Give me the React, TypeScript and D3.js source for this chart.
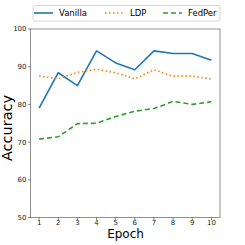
import { useEffect, useRef } from "react";
import * as d3 from "d3";

const epochs = [1, 2, 3, 4, 5, 6, 7, 8, 9, 10];
const vanilla = [79, 88.4, 85, 94.2, 91, 89.2, 94.2, 93.5, 93.5, 91.7];
const ldp = [87.5, 86.8, 88.5, 89.3, 88.4, 86.8, 89.2, 87.5, 87.5, 86.7];
const fedper = [70.8, 71.4, 74.9, 75, 76.8, 78.2, 78.9, 80.8, 80, 80.7];
const yTicks = [50, 60, 70, 80, 90, 100];

const seriesList = [
  { name: "Vanilla", values: vanilla, color: "#1f77b4", dash: "" },
  { name: "LDP", values: ldp, color: "#ff7f0e", dash: "1.5,2.5" },
  { name: "FedPer", values: fedper, color: "#2ca02c", dash: "5,3" },
];

export default function App() {
  const svgRef = useRef<SVGSVGElement | null>(null);
  const width = 245;
  const height = 245;

  useEffect(() => {
    if (!svgRef.current) return;
    const svg = d3.select(svgRef.current);
    svg.selectAll("*").remove();

    const left = 30.5, right = 220, top = 29, bottom = 217.5;
    const x = d3.scaleLinear().domain([0.55, 10.45]).range([left, right]);
    const y = d3.scaleLinear().domain([50, 100]).range([bottom, top]);

    // frame
    svg.append("rect")
      .attr("x", left).attr("y", top)
      .attr("width", right - left).attr("height", bottom - top)
      .attr("fill", "none").attr("stroke", "#777").attr("stroke-width", 0.8);

    // y ticks
    const yg = svg.append("g");
    yTicks.forEach(t => {
      yg.append("line").attr("x1", left - 2.5).attr("x2", left)
        .attr("y1", y(t)).attr("y2", y(t)).attr("stroke", "#333").attr("stroke-width", 0.6);
      yg.append("text").attr("x", left - 4).attr("y", y(t)).attr("dy", "0.35em")
        .attr("text-anchor", "end").style("font-size", "7px").style("font-family", "DejaVu Sans")
        .attr("fill", "#222").text(t);
    });

    // x ticks
    const xg = svg.append("g");
    epochs.forEach(t => {
      xg.append("line").attr("x1", x(t)).attr("x2", x(t))
        .attr("y1", bottom).attr("y2", bottom + 2.5).attr("stroke", "#333").attr("stroke-width", 0.6);
      xg.append("text").attr("x", x(t)).attr("y", bottom + 7.5)
        .attr("text-anchor", "middle").style("font-size", "7px").style("font-family", "DejaVu Sans")
        .attr("fill", "#222").text(t);
    });

    // series
    const line = d3.line<number>().x((_, i) => x(epochs[i])).y(d => y(d));
    seriesList.forEach(s => {
      svg.append("path").attr("d", line(s.values) || "")
        .attr("fill", "none").attr("stroke", s.color).attr("stroke-width", 1.6)
        .attr("stroke-dasharray", s.dash).attr("stroke-linejoin", "round");
    });

    // axis labels
    svg.append("text").attr("x", 125.5).attr("y", 238).attr("text-anchor", "middle")
      .style("font-size", "12px").style("font-family", "DejaVu Sans").text("Epoch");
    svg.append("text").attr("transform", `translate(12,128) rotate(-90)`)
      .attr("text-anchor", "middle")
      .style("font-size", "14.5px").style("font-family", "DejaVu Sans").text("Accuracy");

    // legend
    const lg = svg.append("g");
    lg.append("rect").attr("x", 33).attr("y", 5.5).attr("width", 187).attr("height", 15.5)
      .attr("fill", "#fff").attr("stroke", "#ccc").attr("stroke-width", 0.8).attr("rx", 1.5);
    const lx = [34, 105, 163];
    seriesList.forEach((s, i) => {
      lg.append("line").attr("x1", lx[i]).attr("x2", lx[i] + 19).attr("y1", 13).attr("y2", 13)
        .attr("stroke", s.color).attr("stroke-width", 1.6).attr("stroke-dasharray", s.dash);
      lg.append("text").attr("x", lx[i] + 25).attr("y", 13).attr("dy", "0.35em")
        .style("font-size", "8.5px").style("font-family", "DejaVu Sans").text(s.name);
    });
  }, []);

  return <svg ref={svgRef} width={width} height={height} style={{ position: "absolute", left: 0, top: 0 }} />;
}
